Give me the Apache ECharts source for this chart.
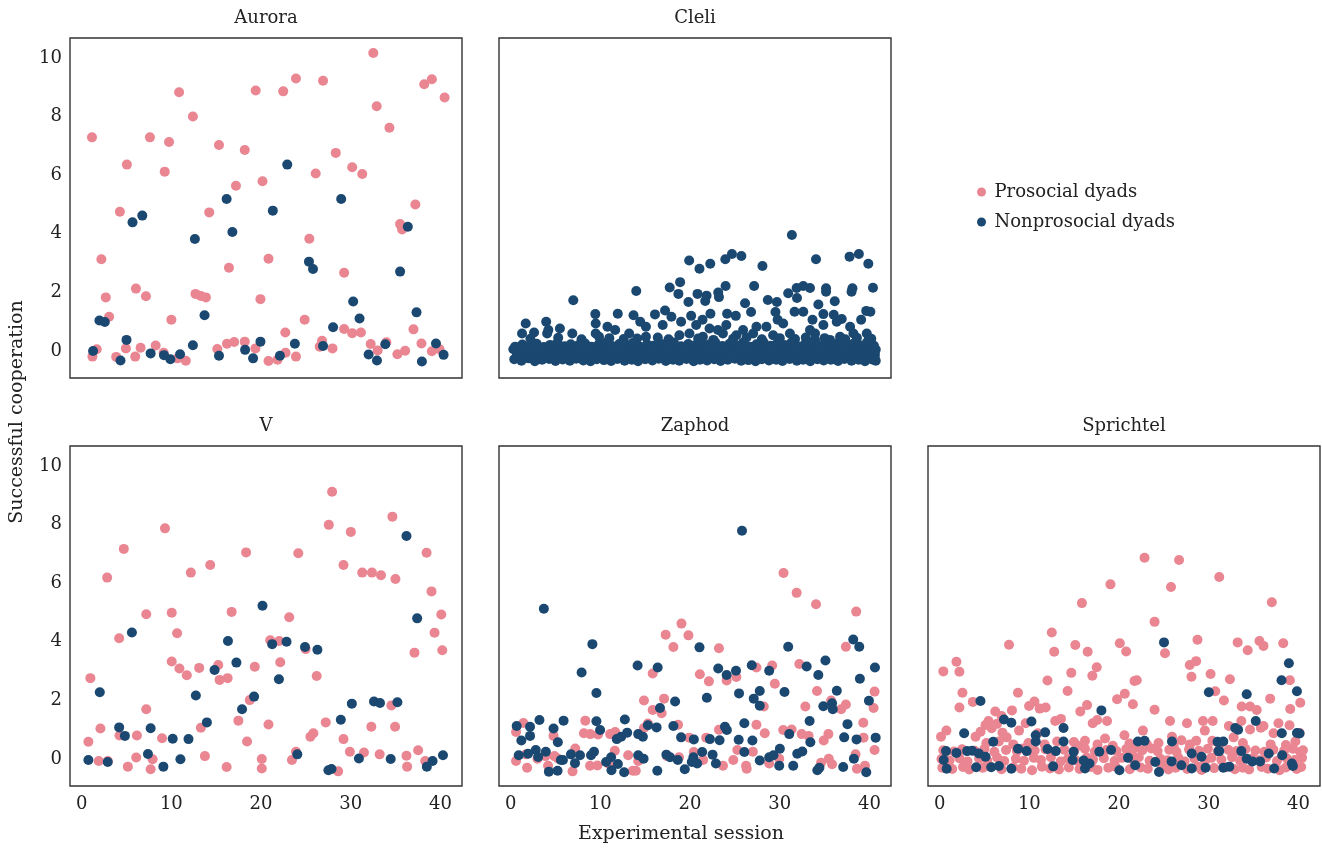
<!DOCTYPE html>
<html><head><meta charset="utf-8">
<script src="https://cdn.jsdelivr.net/npm/echarts@6/dist/echarts.min.js"></script>
<style>html,body{margin:0;padding:0;background:#fff}#c{width:1322px;height:851px}</style>
</head><body><div id="c"></div>
<script>
const panelNames = ['Aurora', 'Cleli', 'V', 'Zaphod', 'Sprichtel'];
const seriesNames = ['Prosocial dyads', 'Nonprosocial dyads'];
const xTicks = [0, 10, 20, 30, 40];
const yTicks = [0, 2, 4, 6, 8, 10];
const xLabel = 'Experimental session';
const yLabel = 'Successful cooperation';

const auroraPro = [[1.15,7.29],[1.2,-0.19],[1.68,0.06],[2.2,3.13],[2.69,1.83],[3.06,1.17],[3.85,-0.2],[4.26,4.75],[4.93,0.09],[5.04,6.36],[5.97,-0.19],[6.05,2.13],[6.57,0.11],[7.17,1.87],[7.61,7.29],[8.25,0.19],[9.14,-0.06],[9.26,6.12],[9.74,7.13],[10.0,1.07],[10.68,-0.25],[10.86,8.83],[11.61,-0.33],[12.4,8.0],[12.69,1.95],[13.29,1.88],[13.85,1.83],[14.22,4.73],[15.12,0.07],[15.31,7.03],[16.2,0.25],[16.42,2.84],[17.0,0.31],[17.2,5.64],[18.18,0.32],[18.18,6.86],[19.37,0.09],[19.4,8.89],[19.93,1.77],[20.16,5.79],[20.83,-0.34],[20.83,3.15],[21.84,-0.3],[22.47,8.86],[22.7,0.63],[22.73,-0.06],[23.89,9.3],[23.89,-0.19],[24.86,1.07],[25.38,3.83],[26.09,6.06],[26.54,0.15],[26.8,0.35],[26.91,9.22],[27.96,0.09],[28.33,6.76],[29.26,2.67],[29.26,0.75],[30.16,6.27],[30.16,0.61],[31.13,0.63],[31.28,6.04],[32.22,0.24],[32.51,10.17],[32.89,8.35],[33.0,0.02],[33.97,0.3],[34.31,7.62],[35.2,-0.11],[35.5,4.33],[35.72,4.15],[36.06,0.01],[36.99,0.74],[37.2,5.0],[37.88,0.26],[38.19,9.1],[39.04,9.27],[39.04,-0.01],[39.9,0.06],[40.46,8.65]];
const auroraNon = [[1.27,0.0],[1.98,1.04],[2.58,0.99],[4.33,-0.32],[5.0,0.38],[5.67,4.39],[6.76,4.62],[7.69,-0.08],[9.18,-0.14],[9.89,-0.28],[10.97,-0.11],[12.4,0.2],[12.62,3.82],[13.7,1.22],[15.31,-0.16],[16.16,5.19],[16.8,4.06],[18.22,0.04],[19.11,-0.25],[19.93,0.32],[21.31,4.79],[22.1,-0.16],[22.92,6.36],[23.77,0.25],[25.34,3.05],[25.79,2.8],[26.91,0.17],[28.03,0.81],[28.93,5.19],[30.27,1.69],[30.98,1.11],[31.99,-0.12],[32.92,-0.32],[33.85,0.23],[35.5,2.71],[36.36,4.24],[37.33,1.32],[37.93,-0.36],[39.5,0.26],[40.35,-0.13]];

const cleliNon = [
[31.35,3.96],[24.67,3.31],[25.72,3.24],[23.93,3.13],[19.9,3.09],[21.05,2.81],[22.25,2.98],[28.07,2.9],[34.04,3.13],[37.78,3.22],[38.82,3.31],[39.87,2.98],[40.39,2.16],
[6.98,1.73],[14.0,2.05],[17.73,2.17],[18.89,2.35],[18.7,1.95],[19.82,1.67],[20.83,1.95],[21.84,1.89],[21.69,1.71],[23.14,2.0],[23.22,1.84],[23.96,2.22],[27.14,2.22],[26.13,1.63],[26.8,1.33],[28.67,1.74],[29.68,1.67],[29.52,1.33],[30.94,1.97],[31.92,1.81],[31.88,2.15],[32.62,2.22],[33.37,2.15],[35.16,2.14],[35.16,2.02],[34.3,1.59],[36.13,1.7],[38.0,2.02],[38.1,2.14],[31.65,1.34],[32.62,1.34],[34.86,1.26],[39.64,1.37],[40.1,1.34],
[1.68,0.94],[2.61,0.63],[3.96,1.0],[5.49,0.77],[9.44,1.26],[11.94,1.27],[13.7,1.22],[14.44,1.0],[16.09,1.25],[17.21,1.38],[20.12,1.2],[21.39,1.07],[22.27,1.27],[24.13,1.27],[25.1,1.2],[29.76,1.07],[33.65,1.07],[36.02,1.24],[36.91,1.09],[39.07,1.07],
[9.48,0.94],[10.79,0.83],[11.65,0.72],[15.08,0.83],[16.95,0.89],[17.92,1.17],[19.0,1.0],[20.68,0.89],[22.17,0.77],[23.11,0.72],[24.04,0.89],[25.91,0.72],[27.4,0.83],[28.51,0.83],[30.38,0.94],[33.37,0.72],[34.86,0.89],[36.35,1.0],[37.84,0.83],[38.21,0.6],[39.9,0.38],[39.7,0.6],
[1.27,0.6],[4.07,0.6],[4.2,0.72],[6.87,0.6],[9.48,0.6],[9.85,0.49],[13.21,0.6],[15.08,0.49],[18.81,0.54],[19.93,0.6],[21.43,0.49],[23.66,0.6],[25.16,0.54],[27.03,0.6],[29.26,0.54],[31.13,0.6],[33.93,0.6],[36.72,0.49],[33.93,0.38],[35.6,0.38],
[2.2,0.42],[5.3,0.45],[7.9,0.4],[11.0,0.44],[12.6,0.41],[14.1,0.43],[16.4,0.46],[17.6,0.4],[20.9,0.43],[22.6,0.38],[24.8,0.42],[26.3,0.46],[28.0,0.4],[30.0,0.44],[31.7,0.41],[32.9,0.46],[35.0,0.44],[37.3,0.4],[38.6,0.45],[40.2,0.42],
[0.4,-0.28],[1.2,-0.33],[2.0,-0.25],[2.7,-0.35],[3.5,-0.3],[4.3,-0.27],[5.0,-0.34],[5.8,-0.29],[6.6,-0.33],[7.3,-0.26],[8.1,-0.32],[8.9,-0.35],[9.6,-0.28],[10.4,-0.31],[11.2,-0.34],[11.9,-0.27],[12.7,-0.33],[13.5,-0.3],[14.2,-0.35],[15.0,-0.28],[15.8,-0.32],[16.5,-0.26],[17.3,-0.34],[18.1,-0.3],[18.8,-0.33],[19.6,-0.27],[20.4,-0.35],[21.1,-0.3],[21.9,-0.32],[22.7,-0.28],[23.4,-0.34],[24.2,-0.3],[25.0,-0.26],[25.7,-0.33],[26.5,-0.31],[27.3,-0.35],[28.0,-0.28],[28.8,-0.32],[29.6,-0.3],[30.3,-0.34],[31.1,-0.27],[31.9,-0.33],[32.6,-0.3],[33.4,-0.35],[34.2,-0.28],[34.9,-0.32],[35.7,-0.3],[36.5,-0.34],[37.2,-0.27],[38.0,-0.33],[38.8,-0.3],[39.5,-0.35],[40.3,-0.29],[40.7,-0.33],
[0.9,-0.17],[1.7,-0.2],[2.5,-0.15],[3.2,-0.19],[4.0,-0.16],[4.8,-0.21],[5.5,-0.14],[6.3,-0.18],[7.1,-0.2],[7.9,-0.15],[8.6,-0.19],[9.4,-0.17],[10.2,-0.21],[10.9,-0.14],[11.7,-0.18],[12.5,-0.2],[13.2,-0.16],[14.0,-0.19],[14.8,-0.15],[15.5,-0.21],[16.3,-0.17],[17.1,-0.14],[17.8,-0.19],[18.6,-0.2],[19.4,-0.15],[20.1,-0.18],[20.9,-0.21],[21.7,-0.16],[22.4,-0.19],[23.2,-0.14],[24.0,-0.2],[24.7,-0.17],[25.5,-0.15],[26.3,-0.2],[27.0,-0.18],[27.8,-0.16],[28.6,-0.21],[29.3,-0.15],[30.1,-0.19],[30.9,-0.17],[31.6,-0.2],[32.4,-0.15],[33.2,-0.18],[33.9,-0.21],[34.7,-0.16],[35.5,-0.19],[36.2,-0.14],[37.0,-0.2],[37.8,-0.17],[38.5,-0.19],[39.3,-0.15],[40.1,-0.2],[40.6,-0.16],
[0.7,-0.08],[1.5,0.0],[2.3,-0.1],[3.1,-0.03],[3.9,-0.07],[4.6,0.02],[5.4,-0.09],[6.2,-0.04],[6.9,0.0],[7.7,-0.08],[8.5,-0.02],[9.2,-0.1],[10.0,-0.05],[10.8,0.01],[11.5,-0.07],[12.3,-0.03],[13.1,-0.1],[13.8,0.0],[14.6,-0.06],[15.4,-0.02],[16.1,-0.09],[16.9,0.02],[17.7,-0.05],[18.4,-0.1],[19.2,-0.01],[20.0,-0.07],[20.7,0.01],[21.5,-0.08],[22.3,-0.03],[23.0,-0.1],[23.8,0.0],[24.6,-0.06],[25.3,-0.02],[26.1,-0.09],[26.9,0.02],[27.6,-0.05],[28.4,-0.1],[29.2,0.0],[29.9,-0.07],[30.7,-0.02],[31.5,-0.09],[32.2,0.01],[33.0,-0.05],[33.8,-0.1],[34.5,0.0],[35.3,-0.06],[36.1,-0.02],[36.8,-0.09],[37.6,0.01],[38.4,-0.05],[39.1,-0.1],[39.9,0.0],[40.6,-0.06],
[0.3,0.06],[1.1,0.1],[1.9,0.05],[2.6,0.09],[3.4,0.07],[4.2,0.11],[4.9,0.05],[5.7,0.08],[6.5,0.1],[7.2,0.06],[8.0,0.09],[8.8,0.05],[9.5,0.1],[10.3,0.07],[11.1,0.04],[11.8,0.09],[12.6,0.06],[13.4,0.11],[14.1,0.07],[14.9,0.05],[15.7,0.1],[16.4,0.06],[17.2,0.09],[18.0,0.05],[18.7,0.1],[19.5,0.07],[20.3,0.11],[21.0,0.06],[21.8,0.08],[22.6,0.05],[23.3,0.1],[24.1,0.07],[24.9,0.09],[25.6,0.05],[26.4,0.1],[27.2,0.07],[27.9,0.11],[28.7,0.06],[29.5,0.09],[30.2,0.05],[31.0,0.1],[31.8,0.07],[32.5,0.09],[33.3,0.05],[34.1,0.11],[34.8,0.07],[35.6,0.1],[36.4,0.06],[37.1,0.09],[37.9,0.05],[38.7,0.11],[39.4,0.07],[40.2,0.09],[40.7,0.05],
[0.5,0.15],[1.3,0.22],[2.1,0.18],[2.9,0.25],[3.7,0.14],[4.4,0.21],[5.2,0.27],[6.0,0.16],[6.7,0.23],[7.5,0.19],[8.3,0.26],[9.0,0.15],[9.8,0.22],[10.6,0.28],[11.3,0.17],[12.1,0.24],[12.9,0.2],[13.6,0.27],[14.4,0.15],[15.2,0.23],[15.9,0.18],[16.7,0.26],[17.5,0.21],[18.2,0.29],[19.0,0.16],[19.8,0.24],[20.5,0.19],[21.3,0.27],[22.1,0.22],[22.8,0.3],[23.6,0.17],[24.4,0.25],[25.1,0.2],[25.9,0.28],[26.7,0.15],[27.4,0.23],[28.2,0.3],[29.0,0.18],[29.7,0.26],[30.5,0.21],[31.3,0.29],[32.0,0.16],[32.8,0.24],[33.6,0.3],[34.3,0.19],[35.1,0.27],[35.9,0.22],[36.6,0.3],[37.4,0.17],[38.2,0.25],[38.9,0.2],[39.7,0.28],[40.5,0.18]];

const vPro = [[0.75,0.59],[0.97,2.76],[1.9,-0.07],[2.09,1.04],[2.84,6.19],[2.91,-0.07],[4.18,4.12],[4.22,0.8],[4.7,7.17],[5.15,-0.26],[6.08,0.05],[6.16,0.8],[7.2,4.94],[7.2,1.7],[7.69,-0.35],[7.91,-0.01],[8.96,0.71],[9.29,7.87],[10.04,4.99],[10.04,3.33],[10.64,4.29],[10.9,3.09],[11.72,2.86],[12.17,6.36],[13.1,3.11],[13.29,1.07],[13.74,0.1],[14.33,6.62],[15.23,3.21],[15.38,2.7],[16.27,2.76],[16.16,-0.27],[16.72,5.02],[17.47,1.31],[18.33,7.05],[18.44,0.6],[18.74,2.01],[19.3,3.15],[20.08,0.0],[20.08,-0.32],[20.83,1.18],[21.02,4.05],[22.02,4.03],[22.14,3.3],[23.14,4.84],[23.44,-0.03],[23.89,0.25],[24.15,7.02],[24.97,3.75],[25.5,0.76],[25.83,0.88],[26.2,2.83],[27.21,1.25],[27.55,7.99],[27.92,9.12],[28.59,-0.42],[29.19,6.62],[29.19,0.68],[29.9,0.25],[30.01,7.75],[31.28,6.36],[31.47,0.22],[32.29,1.1],[32.36,6.36],[33.22,0.16],[33.37,6.27],[34.53,1.83],[34.64,8.27],[34.94,1.1],[34.98,6.14],[36.21,0.11],[36.28,-0.26],[37.1,3.63],[37.51,0.3],[38.3,-0.07],[38.45,7.04],[39.0,5.72],[39.34,4.31],[40.09,4.93],[40.2,3.71]];
const vNon = [[0.75,-0.03],[2.02,2.28],[2.91,-0.1],[4.18,1.08],[4.82,0.79],[5.6,4.32],[7.39,0.17],[7.69,1.05],[9.11,-0.26],[10.15,0.69],[11.01,-0.01],[11.91,0.68],[12.73,2.17],[13.96,1.25],[14.82,3.04],[16.31,4.03],[17.25,3.29],[17.88,1.7],[19.22,2.13],[20.16,5.23],[21.24,3.92],[21.99,2.72],[22.84,4.0],[24.04,0.16],[24.9,3.82],[26.28,3.73],[27.51,-0.38],[27.85,-0.34],[28.89,1.34],[30.12,1.89],[30.91,0.02],[32.59,1.96],[33.26,1.91],[34.45,0.0],[35.2,1.94],[36.21,7.61],[37.4,4.8],[38.48,-0.26],[39.12,-0.07],[40.28,0.13]];

const zaphodPro = [[30.42,6.35],[31.88,5.67],[34.04,5.28],[38.52,5.03],[19.04,4.62],[17.28,4.24],[19.82,4.22],[18.14,3.82],[23.22,3.78],[37.37,3.83],[29.15,3.19],[27.4,3.12],[32.18,3.24],[21.09,2.89],[22.1,2.65],[24.08,2.68],[25.16,2.8],[15.83,2.92],[29.45,2.57],[34.15,2.32],[40.57,2.3],[14.86,2.0],[17.1,2.06],[15.83,1.67],[16.83,1.56],[28.22,1.79],[32.85,1.79],[35.72,2.0],[36.84,1.7],[37.37,1.86],[40.46,1.74],[39.31,1.24],[8.32,1.31],[8.17,0.88],[8.88,0.85],[9.74,0.84],[0.6,0.92],[1.42,1.23],[4.78,0.79],[11.09,0.85],[11.65,0.92],[14.86,1.06],[15.3,1.21],[18.66,1.17],[19.9,0.73],[21.8,0.73],[23.22,1.0],[27.4,1.17],[28.33,0.88],[30.38,0.99],[31.32,1.01],[32.44,0.85],[33.21,0.79],[34.9,0.63],[35.42,0.85],[39.34,0.73],[0.6,-0.07],[1.83,-0.3],[1.71,0.16],[2.99,0.01],[3.88,0.1],[4.17,-0.23],[4.88,0.1],[5.26,0.02],[6.9,-0.42],[7.2,0.36],[8.85,-0.23],[9.67,-0.22],[10.97,-0.17],[11.61,0.28],[13.1,0.13],[13.62,-0.4],[13.95,-0.4],[14.22,-0.07],[17.43,0.1],[18.77,0.06],[20.42,0.24],[21.46,-0.03],[23.67,-0.23],[24.82,-0.03],[25.27,0.31],[26.24,-0.23],[26.31,-0.33],[27.0,0.25],[28.82,-0.15],[29.94,0.01],[34.6,-0.13],[35.46,0.01],[35.83,-0.18],[38.45,0.16],[38.6,-0.33],[39.5,-0.23],[40.57,0.31]];
const zaphodNon = [[25.79,7.79],[3.7,5.13],[9.11,3.92],[7.91,2.95],[9.56,2.25],[21.05,3.81],[14.15,3.19],[16.39,3.12],[30.94,3.83],[38.19,4.08],[38.86,3.83],[23.14,3.09],[24.08,2.87],[25.12,3.01],[26.88,3.2],[28.82,3.01],[33.0,3.16],[34.3,2.87],[35.09,3.36],[40.61,3.12],[38.93,2.74],[25.46,2.24],[21.87,2.09],[27.77,2.32],[27.1,2.06],[27.77,1.82],[30.53,2.29],[36.36,2.33],[34.86,1.8],[35.83,1.9],[35.91,1.7],[39.94,1.99],[18.33,1.96],[16.65,1.74],[33.33,1.3],[37.55,1.19],[26.05,1.22],[18.14,1.13],[16.27,1.08],[15.3,1.15],[12.73,1.35],[9.56,1.29],[9.97,0.99],[5.9,1.31],[3.21,1.33],[2.16,1.1],[0.67,1.13],[1.19,0.63],[2.16,0.79],[4.78,1.04],[5.26,0.57],[0.9,0.13],[1.94,0.18],[2.8,0.31],[3.06,0.07],[3.92,0.25],[4.26,-0.43],[5.23,-0.4],[5.6,-0.03],[5.83,-0.03],[6.72,0.16],[7.17,-0.14],[7.73,0.13],[8.96,0.13],[9.29,0.25],[10.64,-0.1],[11.2,0.06],[11.24,-0.38],[11.95,-0.17],[12.65,-0.45],[11.83,0.68],[12.32,0.76],[12.99,0.9],[14.22,0.85],[14.74,0.76],[14.22,0.13],[14.82,0.01],[16.35,-0.4],[17.36,0.15],[17.77,0.06],[18.63,-0.03],[19.0,0.74],[19.41,-0.35],[20.42,0.67],[20.19,-0.1],[20.37,0.06],[20.79,-0.15],[21.35,0.24],[22.21,0.68],[22.51,0.15],[22.88,-0.15],[23.29,0.64],[23.89,1.1],[24.1,0.99],[25.42,0.66],[26.05,0.24],[26.95,0.63],[27.77,-0.05],[28.82,0.06],[29.3,0.13],[30.01,0.35],[29.94,-0.23],[31.06,0.85],[31.5,-0.23],[31.95,0.18],[32.51,0.26],[33.41,0.57],[34.19,-0.38],[34.42,-0.3],[37.07,-0.27],[37.18,0.74],[38.26,0.01],[38.56,0.67],[39.64,-0.45],[40.69,0.73]];

const sprichtelPro = [[22.84,6.87],[26.69,6.79],[31.17,6.21],[19.04,5.96],[25.79,5.87],[15.86,5.32],[37.03,5.35],[23.96,4.68],[12.5,4.32],[7.73,3.9],[12.77,3.66],[15.12,3.89],[16.5,3.66],[20.08,3.95],[20.79,3.67],[25.12,3.61],[28.74,4.07],[33.22,3.98],[34.34,3.71],[35.65,4.03],[36.1,3.86],[38.3,3.95],[1.87,3.32],[0.41,2.99],[2.2,2.98],[2.54,2.26],[2.2,1.76],[3.7,1.95],[8.73,2.26],[12.02,2.68],[14.26,2.32],[14.67,2.94],[17.02,2.84],[17.51,3.13],[21.72,2.66],[21.97,2.69],[19.78,2.04],[20.64,2.23],[21.54,1.87],[23.96,1.68],[27.88,3.21],[28.07,2.81],[28.59,3.34],[30.2,2.9],[30.72,2.31],[31.69,2.0],[32.36,2.72],[33.67,1.79],[34.6,1.79],[35.35,1.67],[36.84,2.06],[39.04,2.69],[39.08,1.71],[40.2,1.92],[6.2,1.62],[8.06,1.66],[9.97,1.81],[10.56,1.96],[11.15,1.72],[11.82,1.76],[15.68,1.62],[16.43,1.84],[17.06,1.22],[17.56,1.33],[18.66,1.3],[25.68,1.3],[27.57,1.22],[29.36,1.3],[30.44,1.3],[32.24,1.13],[33.63,1.3],[36.1,1.13],[37.77,1.22],[39.0,1.15],[0.15,0.76],[0.75,0.97],[5.11,1.16],[4.56,0.93],[4.0,0.76],[5.45,1.3],[6.9,1.47],[7.47,0.74],[8.85,0.97],[9.59,1.22],[10.94,0.88],[12.88,1.3],[13.52,1.37],[14.97,0.58],[16.2,0.62],[18.44,0.7],[20.6,0.81],[22.66,0.97],[21.16,0.53],[25.9,0.76],[26.95,0.64],[29.56,0.97],[30.4,0.62],[32.77,0.74],[34.6,1.01],[35.8,1.07],[37.22,0.88],[39.65,0.6],[40.12,0.89],[40.2,0.24],
[5.8,1.05],[6.4,1.2],[7.0,0.9],[5.2,0.55],[6.6,0.6],[8.2,0.5],[9.9,0.55],[11.7,0.5],[13.1,0.6],[15.4,0.45],[17.6,0.5],[19.3,0.45],[21.9,0.4],[23.1,0.5],[24.4,0.55],[26.1,0.45],[27.9,0.5],[28.6,0.62],[31.2,0.5],[33.8,0.55],[36.9,0.5],[38.6,0.48],
[0.3,-0.3],[1.4,-0.34],[2.6,-0.27],[3.3,-0.36],[4.8,-0.3],[5.6,-0.25],[6.9,-0.35],[8.2,-0.28],[9.1,-0.33],[10.3,-0.38],[11.4,-0.26],[12.3,-0.32],[13.3,-0.36],[14.4,-0.29],[15.6,-0.34],[16.9,-0.27],[17.6,-0.37],[18.8,-0.3],[19.6,-0.26],[21.2,-0.35],[22.4,-0.29],[23.2,-0.33],[24.8,-0.27],[25.5,-0.36],[26.3,-0.3],[27.6,-0.34],[28.8,-0.26],[29.2,-0.37],[30.6,-0.31],[31.9,-0.28],[32.9,-0.35],[33.8,-0.3],[34.5,-0.36],[35.9,-0.27],[36.6,-0.33],[37.9,-0.38],[38.6,-0.29],[39.8,-0.34],[40.3,-0.27],
[0.2,0.0],[1.1,-0.05],[2.2,0.03],[3.1,-0.08],[4.4,0.02],[5.3,-0.04],[6.4,0.05],[7.2,-0.07],[8.5,0.01],[9.4,-0.06],[10.5,0.04],[11.3,-0.03],[12.4,0.06],[13.5,-0.08],[14.3,0.02],[15.2,-0.05],[16.4,0.05],[17.1,-0.02],[18.3,0.03],[19.5,-0.07],[20.3,0.04],[21.6,-0.03],[22.2,0.06],[23.4,-0.06],[24.6,0.01],[25.4,-0.04],[26.6,0.05],[27.3,-0.08],[28.4,0.02],[29.6,-0.05],[30.3,0.04],[31.4,-0.02],[32.6,0.06],[33.5,-0.06],[34.9,0.03],[35.6,-0.04],[36.4,0.05],[37.6,-0.07],[38.7,0.02],[39.6,-0.03],[40.4,0.04],
[0.4,0.3],[1.6,0.26],[2.5,0.33],[3.9,0.28],[5.0,0.35],[6.1,0.25],[7.4,0.31],[8.6,0.27],[9.3,0.36],[10.6,0.29],[11.8,0.33],[12.7,0.25],[13.9,0.32],[15.0,0.28],[16.2,0.35],[17.3,0.26],[18.6,0.31],[19.7,0.27],[20.8,0.34],[21.4,0.25],[22.6,0.3],[23.6,0.36],[24.3,0.27],[25.6,0.32],[26.4,0.25],[27.8,0.33],[28.9,0.28],[29.9,0.35],[31.0,0.26],[32.2,0.31],[33.1,0.27],[34.1,0.34],[35.2,0.29],[36.2,0.25],[37.2,0.32],[38.4,0.28],[39.4,0.35],[40.5,0.3]];
const sprichtelNon = [[25.01,3.98],[38.93,3.27],[38.11,2.69],[39.83,2.31],[30.01,2.28],[34.23,2.21],[4.55,1.98],[18.03,1.66],[35.24,1.3],[32.95,1.06],[33.27,1.0],[38.14,0.88],[39.83,0.89],[40.12,0.87],[7.17,1.35],[7.99,1.24],[10.23,1.28],[10.71,0.81],[10.71,0.6],[11.76,0.91],[13.81,1.06],[13.81,0.6],[2.73,0.88],[5.97,0.59],[22.1,0.6],[22.84,0.62],[25.9,0.6],[30.98,0.59],[31.62,0.6],[31.1,0.27],[0.71,0.27],[1.87,0.21],[3.06,0.27],[3.62,0.28],[4.37,0.19],[5.11,0.08],[0.45,-0.03],[0.78,-0.33],[4.07,-0.28],[5.75,-0.28],[6.61,-0.24],[7.99,-0.33],[8.73,0.35],[9.7,0.27],[12.02,0.34],[12.95,0.27],[12.65,-0.25],[14.93,0.25],[14.82,-0.03],[16.05,-0.05],[16.2,-0.32],[16.7,-0.15],[17.8,0.25],[19.11,0.31],[20.04,-0.38],[21.0,0.04],[21.8,-0.21],[24.04,-0.1],[24.45,-0.44],[25.86,-0.08],[26.95,-0.21],[28.1,-0.32],[28.1,0.19],[29.19,0.08],[29.64,-0.3],[31.17,0.27],[31.62,-0.3],[32.29,-0.26],[33.63,0.27],[34.23,0.01],[34.86,-0.08],[35.72,-0.08],[36.69,0.19],[37.29,-0.32],[38.19,0.13],[39.27,-0.15],[39.38,-0.24]];

const panelData = [
  [auroraPro, auroraNon],
  [null, cleliNon],
  [vPro, vNon],
  [zaphodPro, zaphodNon],
  [sprichtelPro, sprichtelNon]
];

const PINK = '#EA8592';
const NAVY = '#1B4870';
const FONT = 'DejaVu Serif';
const TXT = '#222';
const gridPos = [
  {left: 70, top: 38}, {left: 499, top: 38},
  {left: 70, top: 446}, {left: 499, top: 446}, {left: 928, top: 446}
];
const W = 392, H = 340;

const grids = [], xAxes = [], yAxes = [], series = [], graphics = [];
gridPos.forEach((g, i) => {
  grids.push({left: g.left, top: g.top, width: W, height: H, show: true,
    borderColor: '#333', borderWidth: 1.4, backgroundColor: '#fff', containLabel: false});
  const bottomRow = i >= 2, leftCol = (i === 0 || i === 2);
  xAxes.push({type: 'value', gridIndex: i, min: -1.3, max: 42.4,
    axisLine: {show: false}, axisTick: {show: false}, splitLine: {show: false},
    axisLabel: {show: bottomRow, customValues: xTicks, margin: 9,
      fontFamily: FONT, fontSize: 18, color: TXT}});
  yAxes.push({type: 'value', gridIndex: i, min: -0.92, max: 10.68,
    axisLine: {show: false}, axisTick: {show: false}, splitLine: {show: false},
    axisLabel: {show: leftCol, customValues: yTicks, margin: 8,
      fontFamily: FONT, fontSize: 18, color: TXT}});
  const [pro, non] = panelData[i];
  if (pro) series.push({name: seriesNames[0], type: 'scatter', xAxisIndex: i, yAxisIndex: i,
    data: pro, symbolSize: 10, itemStyle: {color: PINK, opacity: 1}, silent: true, z: 2});
  series.push({name: seriesNames[1], type: 'scatter', xAxisIndex: i, yAxisIndex: i,
    data: non, symbolSize: 10, itemStyle: {color: NAVY, opacity: 1}, silent: true, z: 3});
  graphics.push({type: 'text', x: g.left + W / 2, y: g.top - 20,
    style: {text: panelNames[i], textAlign: 'center', textVerticalAlign: 'middle',
      font: '18px "' + FONT + '"', fill: TXT}});
});
graphics.push({type: 'text', x: 681, y: 834,
  style: {text: xLabel, textAlign: 'center', textVerticalAlign: 'middle',
    font: '19px "' + FONT + '"', fill: TXT}});
graphics.push({type: 'text', x: 17, y: 412, rotation: Math.PI / 2,
  style: {text: yLabel, textAlign: 'center', textVerticalAlign: 'middle',
    font: '19px "' + FONT + '"', fill: TXT}});

const chart = echarts.init(document.getElementById('c'), null, {renderer: 'canvas'});
chart.setOption({
  animation: false,
  backgroundColor: '#fff',
  grid: grids, xAxis: xAxes, yAxis: yAxes, series: series,
  legend: {data: seriesNames, orient: 'vertical', left: 972, top: 178,
    icon: 'circle', itemWidth: 16, itemHeight: 9, itemGap: 12,
    textStyle: {fontFamily: FONT, fontSize: 18, color: TXT},
    selectedMode: false},
  graphic: graphics
});
</script></body></html>
